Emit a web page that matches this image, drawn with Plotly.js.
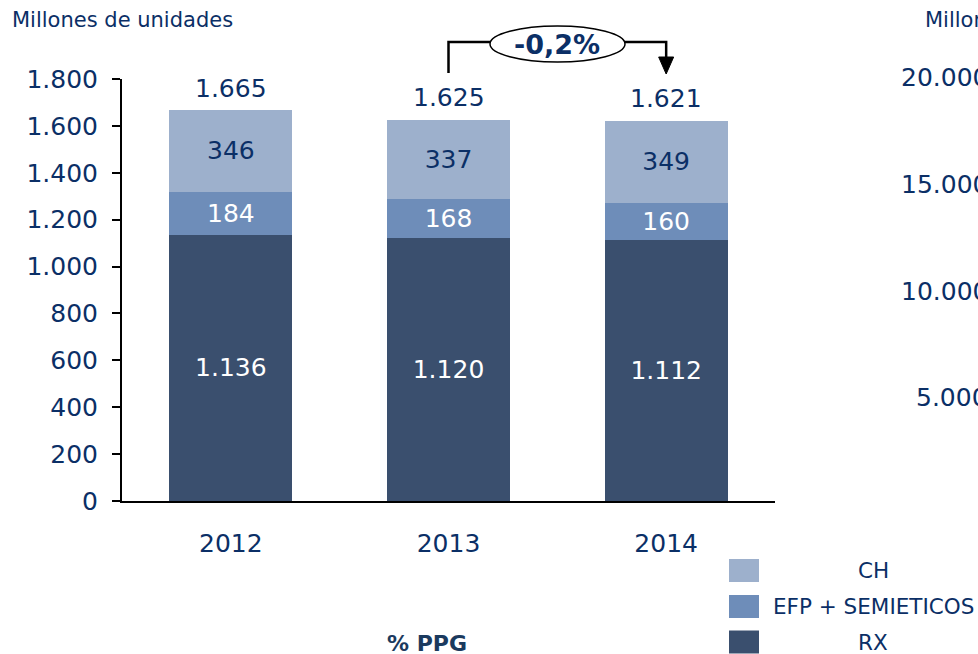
<!DOCTYPE html>
<html>
<head>
<meta charset="utf-8">
<script src="https://cdn.plot.ly/plotly-3.0.1.min.js"></script>
<style>html,body{margin:0;padding:0;background:#fff;}#chart{width:978px;height:654px;}</style>
</head>
<body>
<div id="chart"></div>
<script>
var categories = ['2012', '2013', '2014'];
var rxValues = [1136, 1120, 1112];
var efpValues = [184, 168, 160];
var chValues = [346, 337, 349];
var totals = [1665, 1625, 1621];
var seriesNames = ['CH', 'EFP + SEMIETICOS', 'RX'];
var changeLabel = '-0,2%';
var subtitle = 'Millones de unidades';
var footLabel = '% PPG';
var rightTicks = ['20.000', '15.000', '10.000', '5.000'];

var W = 978, H = 654;
var L = 122, R = 775, T = 79, B = 501;
var navy = '#0b2f66';
var colCH = '#9db0cc', colEFP = '#6e8db9', colRX = '#3a4f6e';
var FONT = 'DejaVu Sans, Verdana, sans-serif';

function px(x) { return (x - L) / (R - L); }
function py(y) { return (B - y) / (B - T); }
function catPaper(i) { return (i + 0.5) / categories.length; }
function fmt(n) { return String(n).replace(/\B(?=(\d{3})+(?!\d))/g, '.'); }

function barTrace(name, vals, color, txtColor) {
  return {
    type: 'bar', name: name, x: categories, y: vals,
    marker: {color: color, line: {width: 0}},
    width: 0.565,
    texttemplate: '%{y:,}', textposition: 'inside', insidetextanchor: 'middle',
    textangle: 0, constraintext: 'none',
    textfont: {family: FONT, size: 25, color: txtColor},
    hoverinfo: 'skip', showlegend: false
  };
}

var data = [
  barTrace(seriesNames[2], rxValues, colRX, '#ffffff'),
  barTrace(seriesNames[1], efpValues, colEFP, '#ffffff'),
  barTrace(seriesNames[0], chValues, colCH, navy)
];

var annotations = [];
totals.forEach(function (t, i) {
  annotations.push({
    x: i, y: t, xref: 'x', yref: 'y', text: fmt(t), showarrow: false,
    xanchor: 'center', yanchor: 'bottom', yshift: 6, font: {family: FONT, size: 25, color: navy}
  });
});
annotations.push({
  xref: 'paper', yref: 'paper', x: px(10), y: py(20), xanchor: 'left', yanchor: 'middle',
  text: subtitle, showarrow: false, font: {family: FONT, size: 21, color: navy}
});
annotations.push({
  xref: 'paper', yref: 'paper', x: px(923), y: py(20), xanchor: 'left', yanchor: 'middle',
  text: subtitle, showarrow: false, font: {family: FONT, size: 21, color: navy}
});
var rightY = [78, 184.5, 291, 397.5];
rightTicks.forEach(function (t, i) {
  annotations.push({
    xref: 'paper', yref: 'paper', x: px(990), y: py(rightY[i]), xanchor: 'right', yanchor: 'middle',
    text: t, showarrow: false, font: {family: FONT, size: 25, color: navy}
  });
});
annotations.push({
  xref: 'paper', yref: 'paper', x: px(557), y: py(44), xanchor: 'center', yanchor: 'middle',
  text: '<b>' + changeLabel + '</b>', showarrow: false, font: {family: FONT, size: 27, color: navy}
});
annotations.push({
  xref: 'paper', yref: 'paper', x: px(427), y: py(643), xanchor: 'center', yanchor: 'middle',
  text: '<b>' + footLabel + '</b>', showarrow: false, font: {family: FONT, size: 22, color: '#1b3a5e'}
});

var legendCols = [colCH, colEFP, colRX];
var legendY = [570.5, 606.5, 642];
var shapes = [];
seriesNames.forEach(function (n, i) {
  shapes.push({
    type: 'rect', xref: 'paper', yref: 'paper',
    x0: px(729), x1: px(759), y0: py(legendY[i] - 11.5), y1: py(legendY[i] + 11.5),
    fillcolor: legendCols[i], line: {width: 0}
  });
  annotations.push({
    xref: 'paper', yref: 'paper', x: px(873), y: py(legendY[i]), xanchor: 'center', yanchor: 'middle',
    text: n, showarrow: false, font: {family: FONT, size: 21.5, color: navy}
  });
});

// bracket from 2013 to 2014
var xa = catPaper(1), xb = catPaper(2);
var yLow = py(73), yTop = py(42), yArrowBase = py(57);
shapes.push({
  type: 'path', xref: 'paper', yref: 'paper',
  path: 'M' + xa + ',' + yLow + ' L' + xa + ',' + yTop + ' L' + xb + ',' + yTop + ' L' + xb + ',' + yArrowBase,
  line: {color: '#000000', width: 2.5}
});
var hw = 7.5 / (R - L);
shapes.push({
  type: 'path', xref: 'paper', yref: 'paper',
  path: 'M' + (xb - hw) + ',' + yArrowBase + ' L' + (xb + hw) + ',' + yArrowBase + ' L' + xb + ',' + py(74) + ' Z',
  fillcolor: '#000000', line: {color: '#000000', width: 1}
});
shapes.push({
  type: 'circle', xref: 'paper', yref: 'paper',
  x0: px(490), x1: px(625), y0: py(62), y1: py(26),
  fillcolor: '#ffffff', line: {color: '#000000', width: 1.5}
});

var layout = {
  width: W, height: H,
  margin: {l: L, r: W - R, t: T, b: H - B, pad: 0},
  paper_bgcolor: '#ffffff', plot_bgcolor: '#ffffff',
  barmode: 'stack',
  separators: ',.',
  showlegend: false,
  font: {family: FONT, color: navy},
  xaxis: {
    type: 'category', range: [-0.5, 2.5], showline: true, linecolor: '#000000', linewidth: 2,
    ticks: '', showgrid: false, zeroline: false, ticklabelstandoff: 19,
    tickfont: {family: FONT, size: 25, color: navy}, fixedrange: true
  },
  yaxis: {
    range: [0, 1800], dtick: 200, tick0: 0, tickformat: ',', showline: true, linecolor: '#000000',
    linewidth: 2, ticks: 'outside', ticklen: 8, tickwidth: 2, tickcolor: '#000000',
    showgrid: false, zeroline: false, ticklabelstandoff: 9,
    tickfont: {family: FONT, size: 25, color: navy}, fixedrange: true
  },
  annotations: annotations,
  shapes: shapes
};

Plotly.newPlot('chart', data, layout, {displayModeBar: false, staticPlot: true});
</script>
</body>
</html>
